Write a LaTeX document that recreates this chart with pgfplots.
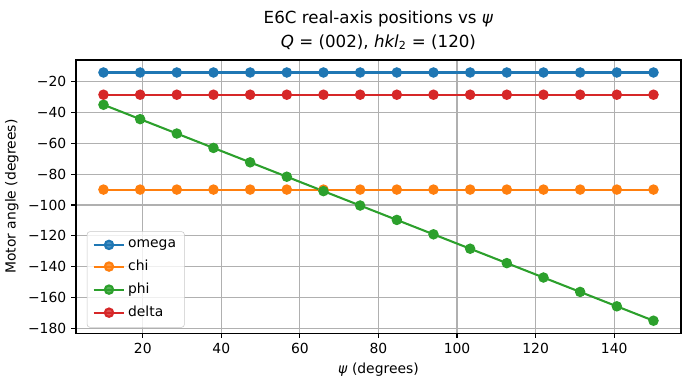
\documentclass[border=0pt]{standalone}
\usepackage{fontspec}
\setmainfont{DejaVu Sans}
\usepackage{pgfplots}
\usepackage{pgfplotstable}
\pgfplotsset{compat=1.18}
\definecolor{C0}{HTML}{1F77B4}
\definecolor{C1}{HTML}{FF7F0E}
\definecolor{C2}{HTML}{2CA02C}
\definecolor{C3}{HTML}{D62728}
\definecolor{gridc}{HTML}{B0B0B0}
\pgfplotstableread{
psi omega chi phi delta
10 -14.1 -90 -35 -28.5
19.3333 -14.1 -90 -44.3333 -28.5
28.6667 -14.1 -90 -53.6667 -28.5
38 -14.1 -90 -63 -28.5
47.3333 -14.1 -90 -72.3333 -28.5
56.6667 -14.1 -90 -81.6667 -28.5
66 -14.1 -90 -91 -28.5
75.3333 -14.1 -90 -100.3333 -28.5
84.6667 -14.1 -90 -109.6667 -28.5
94 -14.1 -90 -119 -28.5
103.3333 -14.1 -90 -128.3333 -28.5
112.6667 -14.1 -90 -137.6667 -28.5
122 -14.1 -90 -147 -28.5
131.3333 -14.1 -90 -156.3333 -28.5
140.6667 -14.1 -90 -165.6667 -28.5
150 -14.1 -90 -175 -28.5
}\datatable
\begin{document}
\begin{tikzpicture}
\useasboundingbox (-54.7pt,-41pt) rectangle (442.1pt,239.8pt);
\begin{axis}[
  at={(0,0)}, anchor=south west,
  scale only axis, width=435.6pt, height=196.6pt,
  xmin=3, xmax=157, ymin=-183, ymax=-6,
  xtick={20,40,...,140},
  ytick={-180,-160,...,-20},
  yticklabels={−180,−160,−140,−120,−100,−80,−60,−40,−20},
  /pgf/number format/assume math mode=true,
  tick label style={font=\fontsize{10}{12}\selectfont},
  tick align=outside, major tick length=3.5pt,
  xtick pos=left, ytick pos=left,
  grid=major, major grid style={gridc, line width=0.8pt},
  axis line style={line width=0.8pt},
  every tick/.style={black, line width=0.8pt},
  xlabel={\textit{ψ} (degrees)},
  ylabel={Motor angle (degrees)},
  label style={font=\fontsize{10}{12}\selectfont},
  title={E6C real-axis positions vs \textit{ψ}\\\textit{Q} = (002), \textit{hkl}\textsubscript{2} = (120)},
  title style={font=\fontsize{12}{17}\selectfont, align=center, yshift=-2pt},
  legend style={at={(0.018,0.02)}, anchor=south west, draw=gridc!70, fill=white, fill opacity=0.8, text opacity=1, rounded corners=2pt, font=\fontsize{10}{12}\selectfont, row sep=3.5pt, inner xsep=4pt, inner ysep=4pt},
  legend cell align=left,
  legend image code/.code={\draw[mark repeat=2,mark phase=2] plot coordinates {(0pt,0pt)(11pt,0pt)(22pt,0pt)};},
  every axis plot/.append style={line width=1.5pt, mark=*, mark size=3pt, mark options={solid}},
]
\addplot[C0, mark options={fill=C0, draw=C0}] table[x=psi, y=omega] {\datatable};
\addlegendentry{omega}
\addplot[C1, mark options={fill=C1, draw=C1}] table[x=psi, y=chi] {\datatable};
\addlegendentry{chi}
\addplot[C2, mark options={fill=C2, draw=C2}] table[x=psi, y=phi] {\datatable};
\addlegendentry{phi}
\addplot[C3, mark options={fill=C3, draw=C3}] table[x=psi, y=delta] {\datatable};
\addlegendentry{delta}
\end{axis}
\end{tikzpicture}
\end{document}
